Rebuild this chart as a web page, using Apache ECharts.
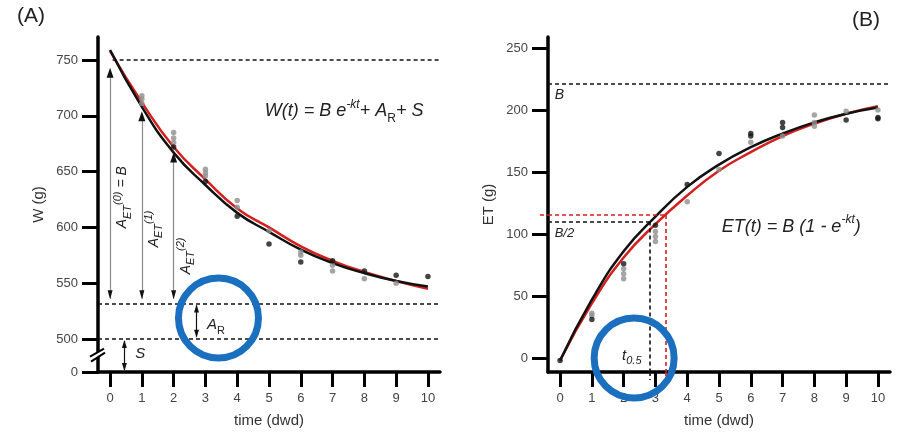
<!DOCTYPE html>
<html><head><meta charset="utf-8">
<script src="https://cdn.jsdelivr.net/npm/echarts@6/dist/echarts.min.js"></script>
<style>html,body{margin:0;padding:0;background:#fff}#c{width:898px;height:437px}</style>
</head><body><div id="c"></div>
<script>
// ---------- data ----------
const timeDwd = [0, 1, 2, 3, 4, 5, 6, 7, 8, 9, 10];
const xTicks = [0, 1, 2, 3, 4, 5, 6, 7, 8, 9, 10];
const wTickValues = [500, 550, 600, 650, 700, 750];
const wBreakBase = 470.4;              // axis bottom, shown as "0" (broken axis)
const etTickValues = [0, 50, 100, 150, 200, 250];

// Panel A: W(t)
const wFitBlack = [759, 708, 667, 638, 613, 596, 580, 568, 559, 552, 547];
const wFitRed   = [758, 712, 672, 643, 617, 600, 583, 570, 560, 552, 545];
const wObsGray  = [[1,718],[1,715],[1,711],[2,685],[2,680],[2,676],[3,652],[3,649],[3,646],
                   [4,624],[4,618],[5,597],[6,578],[6,575],[7,566],[7,561],[8,554],[9,550]];
const wObsBlack = [[2,672],[3,641],[4,610],[5,585],[6,569],[7,570],[8,561],[9,557],[10,556]];
const wLevelB = 750, wLevelAR = 532, wLevelS = 500;
const aetTips = [[0, 743], [1, 704], [2, 667]];

// Panel B: ET(t)
const etFitBlack = [-2, 47, 86, 114, 138, 156, 170, 181, 190, 197, 202];
const etFitRed   = [-2, 44, 81, 108, 131, 151, 166, 179, 189, 197, 203];
const etObsGray  = [[1,36],[1,34],[2,72],[2,68],[2,64],[3,102],[3,98],[3,94],[4,126],[5,152],
                    [6,174],[7,179],[8,196],[8,190],[8,187],[9,199],[10,200]];
const etObsBlack = [[0,-2],[1,31],[2,76],[3,107],[4,140],[5,165],[6,181],[6,179],[7,190],[7,186],
                    [9,192],[10,193],[10,194]];
const etB = 221, etHalfBlack = 110, etHalfRed = 115.3, tHalfBlack = 2.83, tHalfRed = 3.33;

// ---------- chart ----------
const FONT = 'Liberation Sans, Arial, sans-serif';
const chart = echarts.init(document.getElementById('c'));
const XMIN = -0.38, XMAX = 10.38;
const ETMIN = -11.3, ETMAX = 258.9;
const RED = '#d41f1f';

function xAxisOf(g) {
  return {
    type: 'value', gridIndex: g, min: XMIN, max: XMAX,
    axisLine: { show: true, onZero: false, lineStyle: { color: '#000', width: 3.5 } },
    axisTick: { show: true, customValues: xTicks, length: 15, lineStyle: { color: '#000', width: 3 } },
    axisLabel: { customValues: xTicks, margin: 20, fontSize: 13, color: '#444', fontFamily: FONT },
    splitLine: { show: false },
    name: 'time (dwd)', nameLocation: 'middle', nameGap: 41,
    nameTextStyle: { fontSize: 15, color: '#333', fontFamily: FONT }
  };
}
function yAxisOf(g, min, max, ticks, name, fmt) {
  return {
    type: 'value', gridIndex: g, min: min, max: max,
    axisLine: { show: true, onZero: false, lineStyle: { color: '#000', width: 3.5 } },
    axisTick: { show: true, customValues: ticks, length: 16, lineStyle: { color: '#000', width: 3 } },
    axisLabel: { customValues: ticks, margin: 20, fontSize: 13, color: '#444', fontFamily: FONT, formatter: fmt },
    splitLine: { show: false },
    name: name, nameLocation: 'middle', nameGap: 52,
    nameTextStyle: { fontSize: 15, color: '#333', fontFamily: FONT }
  };
}
const pair = (xs, ys) => xs.map((x, i) => [x, ys[i]]);
const dash = (c) => ({ color: c, width: 1.6, type: [4, 3] });
const hl = (x1, x2, y, c) => [{ coord: [x1, y], lineStyle: dash(c) }, { coord: [x2, y] }];
const vl = (x, y1, y2, c) => [{ coord: [x, y1], lineStyle: dash(c) }, { coord: [x, y2] }];
const grayArrow = (x, y1, y2) => [{ coord: [x, y1], lineStyle: { color: '#8a8a8a', width: 1.2, type: 'solid' } }, { coord: [x, y2] }];
const blackArrow = (x, y1, y2) => [{ coord: [x, y1], lineStyle: { color: '#111', width: 1.2, type: 'solid' } }, { coord: [x, y2] }];
const tipUp = (x, y, s) => ({ coord: [x, y], symbol: 'triangle', symbolSize: s || [7, 10], symbolOffset: [0, '50%'] });
const tipDown = (x, y, s) => ({ coord: [x, y], symbol: 'triangle', symbolRotate: 180, symbolSize: s || [5, 9], symbolOffset: [0, '-50%'] });

const option = {
  animation: false,
  backgroundColor: '#fff',
  grid: [
    { left: 98, top: 37, width: 342, height: 335 },
    { left: 548, top: 37, width: 342, height: 335 }
  ],
  xAxis: [xAxisOf(0), xAxisOf(1)],
  yAxis: [
    yAxisOf(0, wBreakBase, 770.6, [wBreakBase].concat(wTickValues), 'W (g)', v => (v < 490 ? '0' : String(v))),
    yAxisOf(1, ETMIN, ETMAX, etTickValues, 'ET (g)', v => String(v))
  ],
  series: [
    // ---- panel A ----
    { type: 'line', xAxisIndex: 0, yAxisIndex: 0, data: pair(timeDwd, wFitRed), smooth: true, symbol: 'none',
      lineStyle: { color: RED, width: 2.5 }, z: 3 },
    { type: 'line', xAxisIndex: 0, yAxisIndex: 0, data: pair(timeDwd, wFitBlack), smooth: true, symbol: 'none',
      lineStyle: { color: '#111', width: 2.5 }, z: 4, clip: false,
      markLine: {
        silent: true, symbol: 'none', label: { show: false }, animation: false,
        data: [
          hl(0.08, XMAX, wLevelB, '#111'),
          hl(XMIN, XMAX, wLevelAR, '#111'),
          hl(XMIN, XMAX, wLevelS, '#111'),
          grayArrow(aetTips[0][0], wLevelAR + 4, aetTips[0][1] - 5),
          grayArrow(aetTips[1][0], wLevelAR + 4, aetTips[1][1] - 5),
          grayArrow(aetTips[2][0], wLevelAR + 4, aetTips[2][1] - 5),
          blackArrow(2.72, wLevelAR - 2, wLevelS + 2),
          blackArrow(0.45, wLevelS - 2, wBreakBase + 2)
        ]
      },
      markPoint: {
        silent: true, label: { show: false }, itemStyle: { color: '#111' },
        data: [
          tipUp(aetTips[0][0], aetTips[0][1]), tipUp(aetTips[1][0], aetTips[1][1]), tipUp(aetTips[2][0], aetTips[2][1]),
          tipDown(0, wLevelAR + 3.5), tipDown(1, wLevelAR + 3.5), tipDown(2, wLevelAR + 3.5),
          tipUp(2.72, wLevelAR - 1, [5, 8]), tipDown(2.72, wLevelS + 1, [5, 8]),
          tipUp(0.45, wLevelS - 1, [5, 8]), tipDown(0.45, wBreakBase + 1, [5, 8])
        ]
      }
    },
    { type: 'scatter', xAxisIndex: 0, yAxisIndex: 0, data: wObsGray, symbolSize: 5.5, itemStyle: { color: '#8e8e8e' }, z: 5 },
    { type: 'scatter', xAxisIndex: 0, yAxisIndex: 0, data: wObsBlack, symbolSize: 5.5, itemStyle: { color: '#151515' }, z: 5 },
    // ---- panel B ----
    { type: 'line', xAxisIndex: 1, yAxisIndex: 1, data: pair(timeDwd, etFitRed), smooth: true, symbol: 'none',
      lineStyle: { color: RED, width: 2.5 }, z: 3 },
    { type: 'line', xAxisIndex: 1, yAxisIndex: 1, data: pair(timeDwd, etFitBlack), smooth: true, symbol: 'none',
      lineStyle: { color: '#111', width: 2.5 }, z: 4, clip: false,
      markLine: {
        silent: true, symbol: 'none', label: { show: false }, animation: false,
        data: [
          hl(XMIN, XMAX, etB, '#111'),
          hl(XMIN, tHalfRed, etHalfRed, RED),
          hl(XMIN, tHalfBlack, etHalfBlack, '#111'),
          vl(tHalfBlack, etHalfBlack, ETMIN, '#111'),
          vl(tHalfRed, etHalfRed, ETMIN, RED)
        ]
      }
    },
    { type: 'scatter', xAxisIndex: 1, yAxisIndex: 1, data: etObsGray, symbolSize: 5.5, itemStyle: { color: '#8e8e8e' }, z: 5 },
    { type: 'scatter', xAxisIndex: 1, yAxisIndex: 1, data: etObsBlack, symbolSize: 5.5, itemStyle: { color: '#151515' }, z: 5 },
    // ---- highlight circles ----
    { type: 'scatter', xAxisIndex: 0, yAxisIndex: 0, data: [], z: 20, clip: false,
      markPoint: { silent: true, label: { show: false }, symbol: 'circle', symbolSize: 80,
        itemStyle: { color: 'rgba(0,0,0,0)', borderColor: '#1b6fbf', borderWidth: 7 },
        data: [{ coord: [3.41, 518.8] }] } },
    { type: 'scatter', xAxisIndex: 1, yAxisIndex: 1, data: [], z: 20, clip: false,
      markPoint: { silent: true, label: { show: false }, symbol: 'circle', symbolSize: 80,
        itemStyle: { color: 'rgba(0,0,0,0)', borderColor: '#1b6fbf', borderWidth: 7 },
        data: [{ coord: [2.33, 0] }] } }
  ]
};
chart.setOption(option);

// ---------- text annotations anchored to data coordinates ----------
const P = (g, x, y) => chart.convertToPixel({ gridIndex: g }, [x, y]);
const it = { fontStyle: 'italic', fontFamily: FONT, fill: '#222' };
function rich(main, small, lh) {
  return {
    m: Object.assign({ fontSize: main, lineHeight: lh }, it),
    sub: Object.assign({ fontSize: small, verticalAlign: 'bottom' }, it),
    subu: { fontSize: small, verticalAlign: 'bottom', fontFamily: FONT, fill: '#222' },
    sup: Object.assign({ fontSize: small, verticalAlign: 'top' }, it)
  };
}
function txt(p, text, r) {
  return { type: 'text', x: p[0], y: p[1], z: 50,
    style: { text: text, rich: r, fontFamily: FONT, fill: '#222', align: 'left', verticalAlign: 'middle' } };
}
const g = [];
g.push({ type: 'text', left: 17, top: 6, z: 50, style: { text: '(A)', fontSize: 21, fontFamily: FONT, fill: '#222' } });
g.push({ type: 'text', left: 852, top: 10, z: 50, style: { text: '(B)', fontSize: 21, fontFamily: FONT, fill: '#222' } });
// formulas
g.push(txt(P(0, 4.87, 704), '{m|W(t) = B e}{sup|-kt}{m|+ A}{subu|R}{m|+ S}', rich(18, 12, 26)));
g.push(txt(P(1, 5.09, 105.6), '{m|ET(t) = B (1 - e}{sup|-kt}{m|)}', rich(18, 12, 26)));
// rotated A_ET labels
const aetLabels = [
  ['{m|A}{sub|ET}{sup|(0)}{m| = B}', 0, 627],
  ['{m|A}{sub|ET}{sup|(1)}', 1, 598.6],
  ['{m|A}{sub|ET}{sup|(2)}', 2, 574.4]
];
aetLabels.forEach(function (a) {
  const p = P(0, a[1], a[2]);
  g.push({ type: 'text', x: p[0] + 2, y: p[1], rotation: Math.PI / 2, z: 50,
    style: { text: a[0], rich: rich(14, 11, 21), align: 'center', verticalAlign: 'top' } });
});
g.push(txt(P(0, 3.05, 512.5), '{m|A}{subu|R}', rich(15, 11, 22)));
g.push(txt(P(0, 0.79, 486.5), '{m|S}', rich(15, 11, 22)));
g.push(txt(P(1, -0.17, 212), '{m|B}', rich(14, 10, 18)));
g.push(txt(P(1, -0.17, 100.8), '{m|B/2}', rich(13, 10, 18)));
g.push(txt(P(1, 1.95, 2), '{m|t}{sub|0.5}', rich(15, 11, 22)));
// short continuations of the t0.5 guide lines past the axes
const vb = P(1, tHalfBlack, ETMIN), vr = P(1, tHalfRed, ETMIN), hr = P(1, XMIN, etHalfRed);
g.push({ type: 'line', z: 30, shape: { x1: vb[0], y1: vb[1], x2: vb[0], y2: vb[1] + 8 }, style: { stroke: '#111', lineWidth: 1.6, lineDash: [4, 3] } });
g.push({ type: 'line', z: 30, shape: { x1: vr[0], y1: vr[1], x2: vr[0], y2: vr[1] + 5 }, style: { stroke: RED, lineWidth: 1.6, lineDash: [4, 3] } });
g.push({ type: 'line', z: 30, shape: { x1: hr[0] - 8, y1: hr[1], x2: hr[0], y2: hr[1] }, style: { stroke: RED, lineWidth: 1.6, lineDash: [4, 3] } });
// axis break mark on the W axis
const b = P(0, XMIN, 486);
g.push({ type: 'polygon', z: 40, shape: { points: [[b[0] - 8, b[1] + 2], [b[0] + 6, b[1] - 6], [b[0] + 7, b[1] - 2], [b[0] - 7, b[1] + 7]] },
  style: { fill: '#fff' } });
g.push({ type: 'line', z: 41, shape: { x1: b[0] - 8, y1: b[1] + 2, x2: b[0] + 6, y2: b[1] - 6 }, style: { stroke: '#000', lineWidth: 2 } });
g.push({ type: 'line', z: 41, shape: { x1: b[0] - 7, y1: b[1] + 7, x2: b[0] + 7, y2: b[1] - 2 }, style: { stroke: '#000', lineWidth: 2 } });
chart.setOption({ graphic: g });
</script>
</body></html>
